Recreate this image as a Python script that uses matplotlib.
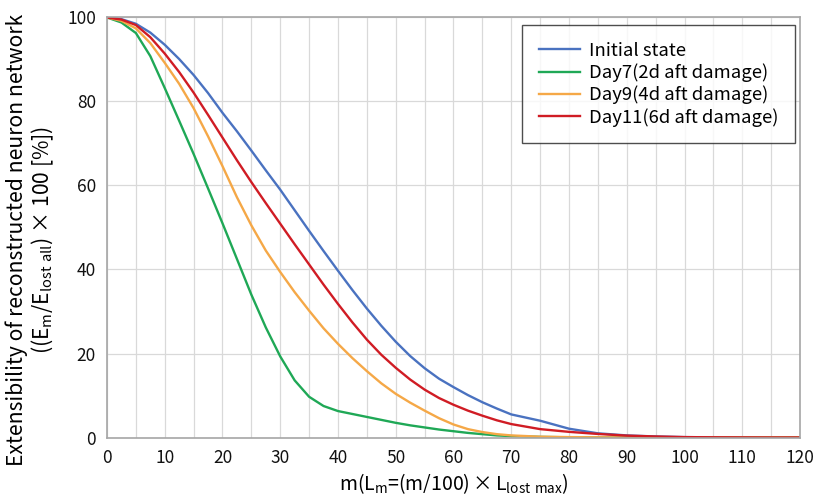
"""Extensibility of reconstructed neuron network vs. m."""

import matplotlib
matplotlib.use("Agg")
import matplotlib.pyplot as plt

plt.rcParams["font.family"] = ["Noto Sans CJK JP", "DejaVu Sans"]
plt.rcParams["mathtext.fontset"] = "custom"
plt.rcParams["mathtext.rm"] = "Noto Sans CJK JP"

m = [0, 2.5, 5, 7.5, 10, 12.5, 15, 17.5, 20, 22.5, 25, 27.5, 30, 32.5, 35,
     37.5, 40, 42.5, 45, 47.5, 50, 52.5, 55, 57.5, 60, 62.5, 65, 67.5, 70,
     75, 80, 85, 90, 95, 100, 105, 110, 115, 120]

initial = [100, 99.6, 98.5, 96.4, 93.5, 90.1, 86.3, 82.0, 77.3, 72.9, 68.3,
           63.6, 59.0, 54.1, 49.2, 44.4, 39.7, 35.1, 30.7, 26.6, 22.8, 19.4,
           16.5, 14.0, 12.0, 10.1, 8.4, 6.9, 5.5, 4.0, 2.1, 1.0, 0.5, 0.25,
           0.1, 0.05, 0.02, 0.0, 0.0]
day7 = [100, 98.8, 96.3, 90.8, 83.2, 75.4, 67.5, 59.3, 51.0, 42.5, 34.0,
        26.2, 19.3, 13.6, 9.7, 7.5, 6.3, 5.6, 4.9, 4.2, 3.5, 2.9, 2.4, 1.9,
        1.5, 1.1, 0.8, 0.5, 0.35, 0.15, 0.05, 0.0, 0.0, 0.0, 0.0, 0.0, 0.0,
        0.0, 0.0]
day9 = [100, 99.2, 97.4, 93.9, 89.2, 84.2, 78.4, 71.7, 64.6, 57.2, 50.5,
        44.5, 39.4, 34.6, 30.2, 26.0, 22.3, 18.9, 15.8, 12.9, 10.4, 8.3, 6.4,
        4.6, 3.1, 2.0, 1.3, 0.8, 0.5, 0.2, 0.1, 0.05, 0.0, 0.0, 0.0, 0.0,
        0.0, 0.0, 0.0]
day11 = [100, 99.5, 98.2, 95.3, 91.4, 87.0, 82.1, 76.8, 71.4, 66.0, 60.8,
         55.8, 50.9, 46.0, 41.2, 36.4, 31.8, 27.4, 23.3, 19.7, 16.6, 13.8,
         11.4, 9.4, 7.8, 6.4, 5.2, 4.1, 3.2, 2.0, 1.35, 0.85, 0.45, 0.25, 0.1,
         0.05, 0.02, 0.0, 0.0]

series = [
    ("Initial state", initial, "#4a72c0"),
    ("Day7(2d aft damage)", day7, "#1fa856"),
    ("Day9(4d aft damage)", day9, "#f5a847"),
    ("Day11(6d aft damage)", day11, "#d01c24"),
]

fig = plt.figure(figsize=(8.18, 4.99), dpi=100)
ax = fig.add_axes([0.1308, 0.1232, 0.8472, 0.8418])

for label, vals, color in series:
    ax.plot(m, vals, color=color, linewidth=1.7, label=label,
            solid_joinstyle="round")

ax.set_xlim(0, 120)
ax.set_ylim(0, 100)
ax.set_xticks(range(0, 121, 10))
ax.set_xticks(range(0, 121, 5), minor=True)
ax.set_yticks(range(0, 101, 20))
ax.grid(True, which="both", axis="x", color="#d9d9d9", linewidth=0.9)
ax.grid(True, which="major", axis="y", color="#d9d9d9", linewidth=0.9)
ax.set_axisbelow(True)
ax.tick_params(which="both", length=0, labelsize=12.5, pad=8, colors="#111111")
for sp in ax.spines.values():
    sp.set_color("#a6a6a6")
    sp.set_linewidth(1.2)

ax.set_xlabel(r"m(L$\mathregular{_m}$=(m/100)$\,$×$\,$L$\mathregular{_{lost\ max}}$)",
              fontsize=14, labelpad=3)
ax.set_ylabel("Extensibility of reconstructed neuron network\n"
              r"((E$\mathregular{_m}$/E$\mathregular{_{lost\ all}}$) × 100 [%])",
              fontsize=15.2, linespacing=1.1)
ax.yaxis.set_label_coords(-0.073, 0.47)

leg = ax.legend(loc="upper right", bbox_to_anchor=(0.9928, 0.982),
                fontsize=13.3, frameon=True, fancybox=False, handlelength=2.2,
                borderpad=0.9, labelspacing=0.2, handletextpad=0.5,
                borderaxespad=0.0)
leg.get_frame().set_edgecolor("#222222")
leg.get_frame().set_linewidth(1.0)

fig.savefig("out.png", dpi=100)
